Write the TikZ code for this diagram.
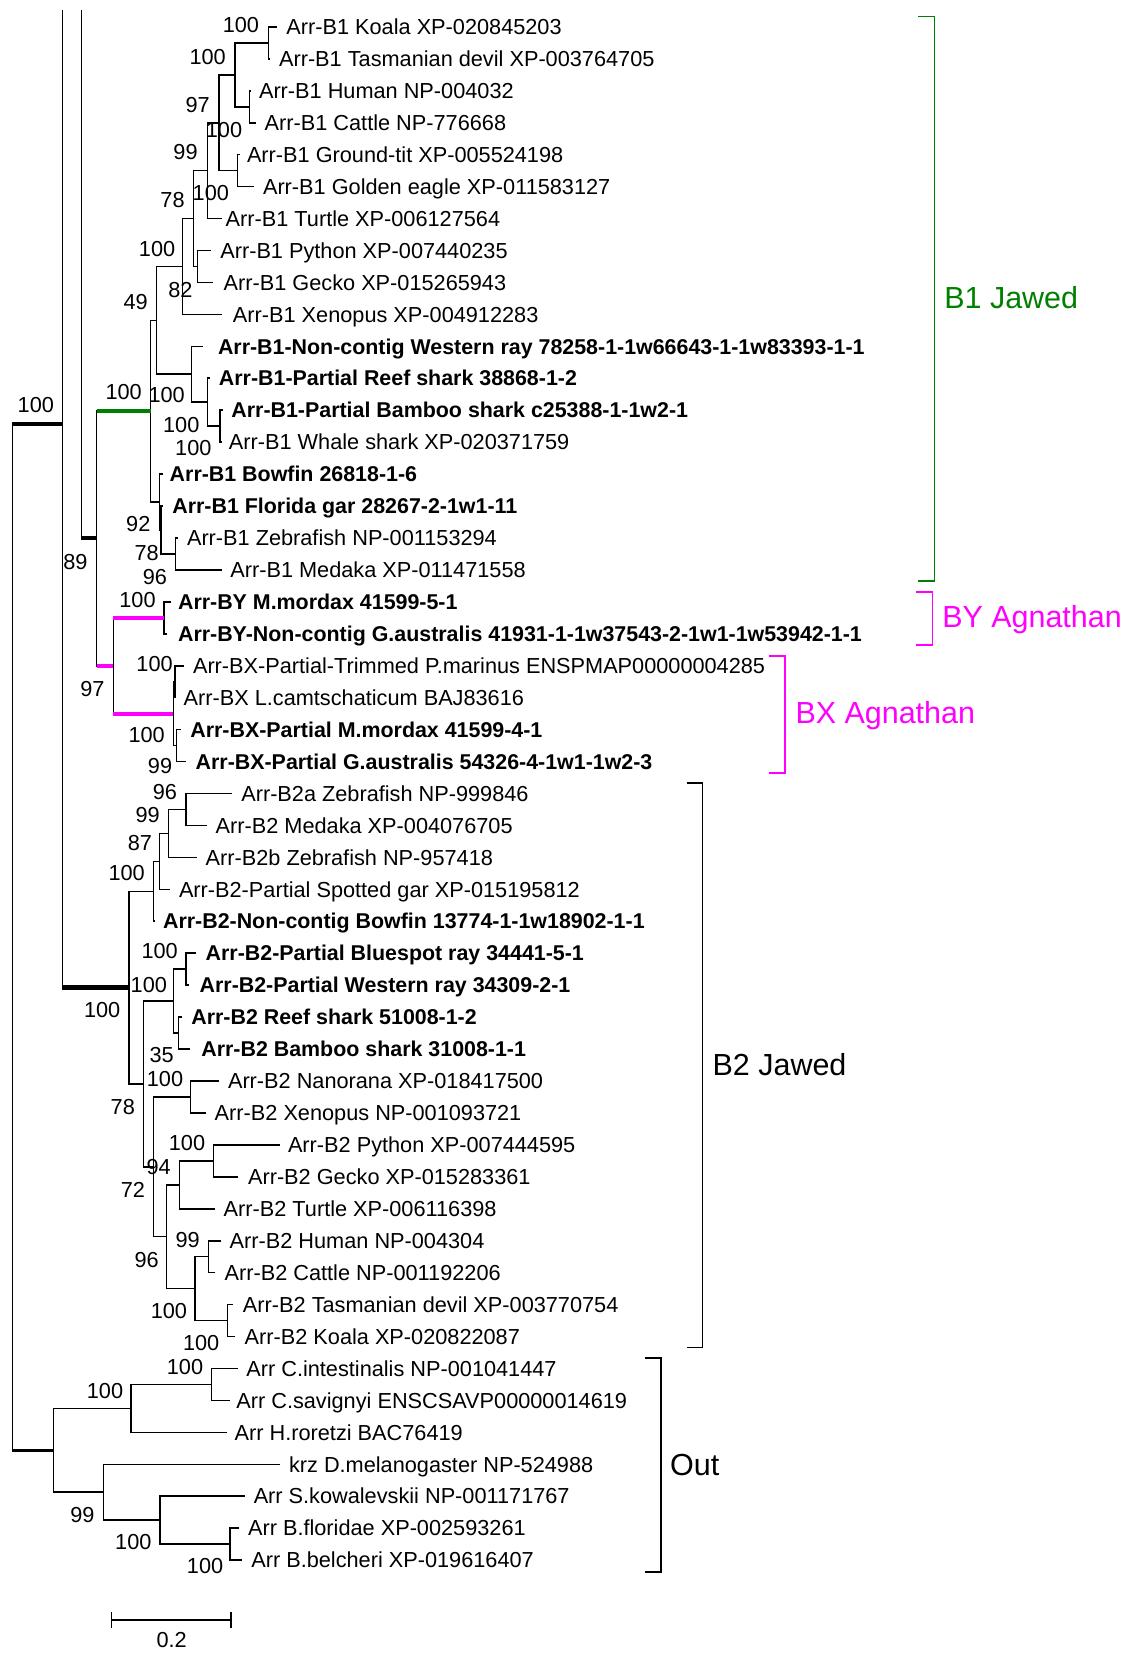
\documentclass[tikz,border=0pt]{standalone}
\usepackage{fontspec}
\setmainfont{Liberation Sans}
\definecolor{grn}{RGB}{0,128,0}
\definecolor{mag}{RGB}{255,0,255}
\newcommand\lff{\fontsize{20.6}{24}\selectfont}
\newcommand\lbf{\fontsize{20.3}{24}\selectfont\bfseries}
\newcommand\gff{\fontsize{28.9}{32}\selectfont}
\begin{document}
\begin{tikzpicture}[x=1pt,y=-1pt,
  br/.style={line width=1.5pt},
  thk/.style={line width=3.8pt},
  brk/.style={line width=1.5pt},
  lf/.style={anchor=base west,inner sep=0pt,font=\lff},
  lfb/.style={anchor=base west,inner sep=0pt,font=\lbf},
  bs/.style={anchor=base,inner sep=0pt,font=\lff},
  grp/.style={anchor=base west,inner sep=0pt,font=\gff}]
\useasboundingbox[fill=white] (0,0) rectangle (1070,1568);
% ---------- leaf tips ----------
\coordinate (t0) at (262.4,25.5);
\coordinate (t1) at (256.5,55.8);
\coordinate (t2) at (238.5,86.1);
\coordinate (t3) at (242.8,116.4);
\coordinate (t4) at (227.5,146.7);
\coordinate (t5) at (241.3,177.0);
\coordinate (t6) at (210.3,207.3);
\coordinate (t7) at (199.8,237.6);
\coordinate (t8) at (202.4,267.9);
\coordinate (t9) at (210.3,298.2);
\coordinate (t10) at (192.9,328.5);
\coordinate (t11) at (199.2,358.8);
\coordinate (t12) at (211.2,389.1);
\coordinate (t13) at (210.6,419.4);
\coordinate (t14) at (154.3,449.7);
\coordinate (t15) at (155.0,480.0);
\coordinate (t16) at (168.5,510.3);
\coordinate (t17) at (210.3,540.6);
\coordinate (t18) at (161.9,570.9);
\coordinate (t19) at (158.1,601.2);
\coordinate (t20) at (174.5,631.5);
\coordinate (t21) at (166.6,661.8);
\coordinate (t22) at (171.5,692.1);
\coordinate (t23) at (176.5,722.4);
\coordinate (t24) at (219.8,752.7);
\coordinate (t25) at (196.0,783.0);
\coordinate (t26) at (186.6,813.3);
\coordinate (t27) at (161.3,843.6);
\coordinate (t28) at (147.5,873.9);
\coordinate (t29) at (185.9,904.2);
\coordinate (t30) at (179.6,934.5);
\coordinate (t31) at (172.5,964.8);
\coordinate (t32) at (180.2,995.1);
\coordinate (t33) at (208.0,1025.4);
\coordinate (t34) at (195.4,1055.7);
\coordinate (t35) at (265.6,1086.0);
\coordinate (t36) at (226.0,1116.3);
\coordinate (t37) at (204.0,1146.6);
\coordinate (t38) at (209.3,1176.9);
\coordinate (t39) at (204.0,1207.2);
\coordinate (t40) at (221.3,1237.5);
\coordinate (t41) at (223.0,1267.8);
\coordinate (t42) at (226.1,1298.1);
\coordinate (t43) at (218.2,1328.4);
\coordinate (t44) at (215.0,1358.7);
\coordinate (t45) at (265.6,1389.0);
\coordinate (t46) at (232.4,1419.3);
\coordinate (t47) at (227.0,1449.6);
\coordinate (t48) at (229.5,1479.9);
% ---------- internal nodes ----------
\coordinate (nKT) at (254.5,40.65);
\coordinate (nHC) at (236.5,101.25);
\coordinate (nKTHC) at (222.9,70.95);
\coordinate (nGE) at (225.1,161.85);
\coordinate (nMB) at (207.7,116.4);
\coordinate (nAa) at (196.7,161.85);
\coordinate (nPG) at (187.5,252.75);
\coordinate (nAm) at (183.4,207.3);
\coordinate (nTet) at (173.3,252.75);
\coordinate (nBW) at (208.7,404.25);
\coordinate (nRBW) at (196.7,381.5);
\coordinate (nCh) at (181.8,355.0);
\coordinate (nTC) at (148.6,303.9);
\coordinate (nZM) at (166.6,525.45);
\coordinate (nB) at (152.6,502.7);
\coordinate (nA) at (151.1,476.2);
\coordinate (nGrn) at (142.8,390.05);
\coordinate (nBY) at (155.6,586.05);
\coordinate (nPL) at (165.8,646.65);
\coordinate (nMG) at (167.6,707.25);
\coordinate (nBX) at (164.4,676.95);
\coordinate (nMag) at (107.5,631.5);
\coordinate (n91) at (91.7,510.8);
\coordinate (top77) at (77.2,9.5);
\coordinate (nB2aM) at (176.4,767.85);
\coordinate (nTel2) at (159.7,790.6);
\coordinate (nGar2) at (151.1,817.1);
\coordinate (nAct2) at (145.5,845.5);
\coordinate (nRay2) at (176.4,919.35);
\coordinate (nShk2) at (169.2,979.95);
\coordinate (nCh2) at (164.4,949.65);
\coordinate (nNX) at (180.9,1040.55);
\coordinate (nPG2) at (202.4,1101.15);
\coordinate (nSau) at (170.1,1123.9);
\coordinate (nHC2) at (197.6,1192.05);
\coordinate (nMar) at (215.6,1252.65);
\coordinate (nMam2) at (185.0,1222.35);
\coordinate (nAmn2) at (158.1,1173.1);
\coordinate (nTet2) at (145.5,1106.8);
\coordinate (nCT2) at (136.0,1028.2);
\coordinate (nB2) at (122.4,936.85);
\coordinate (top58) at (59.1,9.5);
\coordinate (n58) at (59.1,402.5);
\coordinate (nCi) at (200.8,1313.25);
\coordinate (nTun) at (124.3,1336.0);
\coordinate (nBr) at (218.2,1464.75);
\coordinate (nSB) at (151.8,1442.0);
\coordinate (nDSB) at (98.0,1415.5);
\coordinate (nOut) at (50.6,1375.75);
\coordinate (root) at (11.7,889.1);
% ---------- branches ----------
\draw[br] (nKT) |- (t0); \draw[br] (nKT) |- (t1);
\draw[br] (nHC) |- (t2); \draw[br] (nHC) |- (t3);
\draw[br] (nKTHC) |- (nKT); \draw[br] (nKTHC) |- (nHC);
\draw[br] (nGE) |- (t4); \draw[br] (nGE) |- (t5);
\draw[br] (nMB) |- (nKTHC); \draw[br] (nMB) |- (nGE);
\draw[br] (nAa) |- (nMB); \draw[br] (nAa) |- (t6);
\draw[br] (nPG) |- (t7); \draw[br] (nPG) |- (t8);
\draw[br] (nAm) |- (nAa); \draw[br] (nAm) |- (nPG);
\draw[br] (nTet) |- (nAm); \draw[br] (nTet) |- (t9);
\draw[br] (nBW) |- (t12); \draw[br] (nBW) |- (t13);
\draw[br] (nRBW) |- (t11); \draw[br] (nRBW) |- (nBW);
\draw[br] (nCh) |- (t10); \draw[br] (nCh) |- (nRBW);
\draw[br] (nTC) |- (nTet); \draw[br] (nTC) |- (nCh);
\draw[br] (nZM) |- (t16); \draw[br] (nZM) |- (t17);
\draw[br] (nB) |- (t15); \draw[br] (nB) |- (nZM);
\draw[br] (nA) |- (t14); \draw[br] (nA) |- (nB);
\draw[br] (nGrn) |- (nTC); \draw[br] (nGrn) |- (nA);
\draw[br] (nBY) |- (t18); \draw[br] (nBY) |- (t19);
\draw[br] (nPL) |- (t20); \draw[br] (nPL) |- (t21);
\draw[br] (nMG) |- (t22); \draw[br] (nMG) |- (t23);
\draw[br] (nBX) |- (nPL); \draw[br] (nBX) |- (nMG);
\draw[br] (nMag) |- (nBY); \draw[br] (nMag) |- (nBX);
\draw[br] (n91) |- (nGrn); \draw[br] (n91) |- (nMag);
\draw[br] (top77) |- (n91);
\draw[br] (nB2aM) |- (t24); \draw[br] (nB2aM) |- (t25);
\draw[br] (nTel2) |- (nB2aM); \draw[br] (nTel2) |- (t26);
\draw[br] (nGar2) |- (nTel2); \draw[br] (nGar2) |- (t27);
\draw[br] (nAct2) |- (nGar2); \draw[br] (nAct2) |- (t28);
\draw[br] (nRay2) |- (t29); \draw[br] (nRay2) |- (t30);
\draw[br] (nShk2) |- (t31); \draw[br] (nShk2) |- (t32);
\draw[br] (nCh2) |- (nRay2); \draw[br] (nCh2) |- (nShk2);
\draw[br] (nNX) |- (t33); \draw[br] (nNX) |- (t34);
\draw[br] (nPG2) |- (t35); \draw[br] (nPG2) |- (t36);
\draw[br] (nSau) |- (nPG2); \draw[br] (nSau) |- (t37);
\draw[br] (nHC2) |- (t38); \draw[br] (nHC2) |- (t39);
\draw[br] (nMar) |- (t40); \draw[br] (nMar) |- (t41);
\draw[br] (nMam2) |- (nHC2); \draw[br] (nMam2) |- (nMar);
\draw[br] (nAmn2) |- (nSau); \draw[br] (nAmn2) |- (nMam2);
\draw[br] (nTet2) |- (nNX); \draw[br] (nTet2) |- (nAmn2);
\draw[br] (nCT2) |- (nCh2); \draw[br] (nCT2) |- (nTet2);
\draw[br] (nB2) |- (nAct2); \draw[br] (nB2) |- (nCT2);
\draw[br] (top58) |- (nB2);
\draw[br] (nCi) |- (t42); \draw[br] (nCi) |- (t43);
\draw[br] (nTun) |- (nCi); \draw[br] (nTun) |- (t44);
\draw[br] (nBr) |- (t47); \draw[br] (nBr) |- (t48);
\draw[br] (nSB) |- (t46); \draw[br] (nSB) |- (nBr);
\draw[br] (nDSB) |- (t45); \draw[br] (nDSB) |- (nSB);
\draw[br] (nOut) |- (nTun); \draw[br] (nOut) |- (nDSB);
\draw[br] (root) |- (n58); \draw[br] (root) |- (nOut);
% ---------- highlighted branches ----------
\draw[thk] (root |- n58) -- (n58);
\draw[line width=3.4pt] (root |- nOut) -- (nOut);
\draw[line width=5pt] (top58 |- nB2) -- (nB2);
\draw[thk] (top77 |- n91) -- (n91);
\draw[line width=3.5pt,grn] (n91 |- nGrn) -- (nGrn);
\draw[thk,mag] (n91 |- nMag) -- (nMag);
\draw[thk,mag] (nMag |- nBY) -- (nBY);
\draw[thk,mag] (nMag |- nBX) -- (nBX);
% ---------- leaf labels ----------
\node[lf] (l0) at (271.5,32.8) {Arr-B1 Koala XP-020845203};
\node[lf] (l1) at (264.5,63.1) {Arr-B1 Tasmanian devil XP-003764705};
\node[lf] (l2) at (245.5,93.4) {Arr-B1 Human NP-004032};
\node[lf] (l3) at (250.9,123.7) {Arr-B1 Cattle NP-776668};
\node[lf] (l4) at (234.1,154.0) {Arr-B1 Ground-tit XP-005524198};
\node[lf] (l5) at (249.3,184.3) {Arr-B1 Golden eagle XP-011583127};
\node[lf] (l6) at (213.9,214.6) {Arr-B1 Turtle XP-006127564};
\node[lf] (l7) at (208.8,244.9) {Arr-B1 Python XP-007440235};
\node[lf] (l8) at (212.0,275.2) {Arr-B1 Gecko XP-015265943};
\node[lf] (l9) at (220.8,305.5) {Arr-B1 Xenopus XP-004912283};
\node[lfb] (l10) at (206.6,335.8) {Arr-B1-Non-contig Western ray 78258-1-1w66643-1-1w83393-1-1};
\node[lfb] (l11) at (207.5,366.1) {Arr-B1-Partial Reef shark 38868-1-2};
\node[lfb] (l12) at (219.3,396.4) {Arr-B1-Partial Bamboo shark c25388-1-1w2-1};
\node[lf] (l13) at (217.0,426.7) {Arr-B1 Whale shark XP-020371759};
\node[lfb] (l14) at (160.8,457.0) {Arr-B1 Bowfin 26818-1-6};
\node[lfb] (l15) at (163.3,487.3) {Arr-B1 Florida gar 28267-2-1w1-11};
\node[lf] (l16) at (177.2,517.6) {Arr-B1 Zebrafish NP-001153294};
\node[lf] (l17) at (218.3,547.9) {Arr-B1 Medaka XP-011471558};
\node[lfb] (l18) at (168.7,578.2) {Arr-BY M.mordax 41599-5-1};
\node[lfb] (l19) at (168.7,608.5) {Arr-BY-Non-contig G.australis 41931-1-1w37543-2-1w1-1w53942-1-1};
\node[lf] (l20) at (182.9,638.8) {Arr-BX-Partial-Trimmed P.marinus ENSPMAP00000004285};
\node[lf] (l21) at (174.0,669.1) {Arr-BX L.camtschaticum BAJ83616};
\node[lfb] (l22) at (180.4,699.4) {Arr-BX-Partial M.mordax 41599-4-1};
\node[lfb] (l23) at (185.4,729.7) {Arr-BX-Partial G.australis 54326-4-1w1-1w2-3};
\node[lf] (l24) at (228.7,760.0) {Arr-B2a Zebrafish NP-999846};
\node[lf] (l25) at (204.4,790.3) {Arr-B2 Medaka XP-004076705};
\node[lf] (l26) at (194.9,820.6) {Arr-B2b Zebrafish NP-957418};
\node[lf] (l27) at (169.6,850.9) {Arr-B2-Partial Spotted gar XP-015195812};
\node[lfb] (l28) at (154.5,881.2) {Arr-B2-Non-contig Bowfin 13774-1-1w18902-1-1};
\node[lfb] (l29) at (194.9,911.5) {Arr-B2-Partial Bluespot ray 34441-5-1};
\node[lfb] (l30) at (189.2,941.8) {Arr-B2-Partial Western ray 34309-2-1};
\node[lfb] (l31) at (181.3,972.1) {Arr-B2 Reef shark 51008-1-2};
\node[lfb] (l32) at (190.8,1002.4) {Arr-B2 Bamboo shark 31008-1-1};
\node[lf] (l33) at (216.1,1032.7) {Arr-B2 Nanorana XP-018417500};
\node[lf] (l34) at (203.5,1063.0) {Arr-B2 Xenopus NP-001093721};
\node[lf] (l35) at (273.0,1093.3) {Arr-B2 Python XP-007444595};
\node[lf] (l36) at (235.1,1123.6) {Arr-B2 Gecko XP-015283361};
\node[lf] (l37) at (212.0,1153.9) {Arr-B2 Turtle XP-006116398};
\node[lf] (l38) at (217.7,1184.2) {Arr-B2 Human NP-004304};
\node[lf] (l39) at (212.9,1214.5) {Arr-B2 Cattle NP-001192206};
\node[lf] (l40) at (230.3,1244.8) {Arr-B2 Tasmanian devil XP-003770754};
\node[lf] (l41) at (231.9,1275.1) {Arr-B2 Koala XP-020822087};
\node[lf] (l42) at (233.5,1305.4) {Arr C.intestinalis NP-001041447};
\node[lf] (l43) at (224.0,1335.7) {Arr C.savignyi ENSCSAVP00000014619};
\node[lf] (l44) at (222.4,1366.0) {Arr H.roretzi BAC76419};
\node[lf] (l45) at (274.0,1396.3) {krz D.melanogaster NP-524988};
\node[lf] (l46) at (240.5,1426.6) {Arr S.kowalevskii NP-001171767};
\node[lf] (l47) at (235.1,1456.9) {Arr B.floridae XP-002593261};
\node[lf] (l48) at (238.2,1487.2) {Arr B.belcheri XP-019616407};
% ---------- bootstrap values ----------
\node[bs] (b1) at (228.5,31.0) {100};
\node[bs] (b2) at (197.0,61.1) {100};
\node[bs] (b3) at (187.5,106.9) {97};
\node[bs] (b4) at (212.5,130.0) {100};
\node[bs] (b5) at (176.0,151.2) {99};
\node[bs] (b6) at (200.0,190.1) {100};
\node[bs] (b7) at (163.7,197.0) {78};
\node[bs] (b8) at (149.0,242.9) {100};
\node[bs] (b9) at (171.2,281.8) {82};
\node[bs] (b10) at (128.7,293.5) {49};
\node[bs] (b11) at (34.0,391.5) {100};
\node[bs] (b12) at (117.3,378.8) {100};
\node[bs] (b13) at (158.1,382.0) {100};
\node[bs] (b14) at (171.9,410.5) {100};
\node[bs] (b15) at (183.4,432.0) {100};
\node[bs] (b16) at (131.2,504.4) {92};
\node[bs] (b17) at (139.1,531.6) {78};
\node[bs] (b18) at (147.0,554.3) {96};
\node[bs] (b19) at (71.5,540.1) {89};
\node[bs] (b20) at (130.4,575.8) {100};
\node[bs] (b21) at (87.6,660.3) {97};
\node[bs] (b22) at (146.6,636.5) {100};
\node[bs] (b23) at (139.1,704.5) {100};
\node[bs] (b24) at (151.8,733.3) {99};
\node[bs] (b25) at (156.5,758.3) {96};
\node[bs] (b26) at (140.0,780.4) {99};
\node[bs] (b27) at (132.8,806.6) {87};
\node[bs] (b28) at (120.2,835.1) {100};
\node[bs] (b29) at (151.5,909.1) {100};
\node[bs] (b30) at (141.2,941.7) {100};
\node[bs] (b31) at (96.9,965.4) {100};
\node[bs] (b32) at (153.3,1008.1) {35};
\node[bs] (b33) at (156.5,1030.2) {100};
\node[bs] (b34) at (116.5,1057.1) {78};
\node[bs] (b35) at (177.4,1091.2) {100};
\node[bs] (b36) at (150.5,1114.0) {94};
\node[bs] (b37) at (126.0,1135.5) {72};
\node[bs] (b38) at (178.0,1182.9) {99};
\node[bs] (b39) at (139.1,1202.5) {96};
\node[bs] (b40) at (160.2,1250.6) {100};
\node[bs] (b41) at (190.8,1280.9) {100};
\node[bs] (b42) at (175.5,1303.7) {100};
\node[bs] (b43) at (99.6,1326.5) {100};
\node[bs] (b44) at (78.1,1444.4) {99};
\node[bs] (b45) at (126.5,1469.7) {100};
\node[bs] (b46) at (194.5,1492.8) {100};
% ---------- group brackets ----------
\coordinate (k1a) at (871.1,15.8); \coordinate (k1b) at (886.3,15.8);
\coordinate (k1c) at (886.3,551.0); \coordinate (k1d) at (871.1,551.0);
\draw[brk,grn] (k1a) -- (k1b) -- (k1c) -- (k1d);
\coordinate (k2a) at (868.6,561.5); \coordinate (k2b) at (884.4,561.5);
\coordinate (k2c) at (884.4,611.7); \coordinate (k2d) at (868.6,611.7);
\draw[brk,mag] (k2a) -- (k2b) -- (k2c) -- (k2d);
\coordinate (k3a) at (729.8,622.2); \coordinate (k3b) at (744.6,622.2);
\coordinate (k3c) at (744.6,733.5); \coordinate (k3d) at (729.8,733.5);
\draw[brk,mag] (k3a) -- (k3b) -- (k3c) -- (k3d);
\coordinate (k4a) at (651.4,742.6); \coordinate (k4b) at (666.2,742.6);
\coordinate (k4c) at (666.2,1278.2); \coordinate (k4d) at (651.4,1278.2);
\draw[brk] (k4a) -- (k4b) -- (k4c) -- (k4d);
\coordinate (k5a) at (611.8,1288.0); \coordinate (k5b) at (627.0,1288.0);
\coordinate (k5c) at (627.0,1490.9); \coordinate (k5d) at (611.8,1490.9);
\draw[brk] (k5a) -- (k5b) -- (k5c) -- (k5d);
\node[grp,text=grn] (gB1) at (895.6,292.2) {B1 Jawed};
\node[grp,text=mag] (gBY) at (893.6,595.5) {BY Agnathan};
\node[grp,text=mag] (gBX) at (754.4,686.4) {BX Agnathan};
\node[grp] (gB2) at (675.8,1019.9) {B2 Jawed};
\node[grp] (gOut) at (635.5,1399.6) {Out};
% ---------- scale bar ----------
\coordinate (s1) at (105.9,1536.7); \coordinate (s2) at (219.1,1536.7);
\draw[br] (s1) -- (s2);
\draw[br] ([yshift=-7.9pt]s1) -- ([yshift=7.9pt]s1);
\draw[br] ([yshift=-7.9pt]s2) -- ([yshift=7.9pt]s2);
\node[bs] (sl) at (162.9,1563.0) {0.2};
\end{tikzpicture}
\end{document}
